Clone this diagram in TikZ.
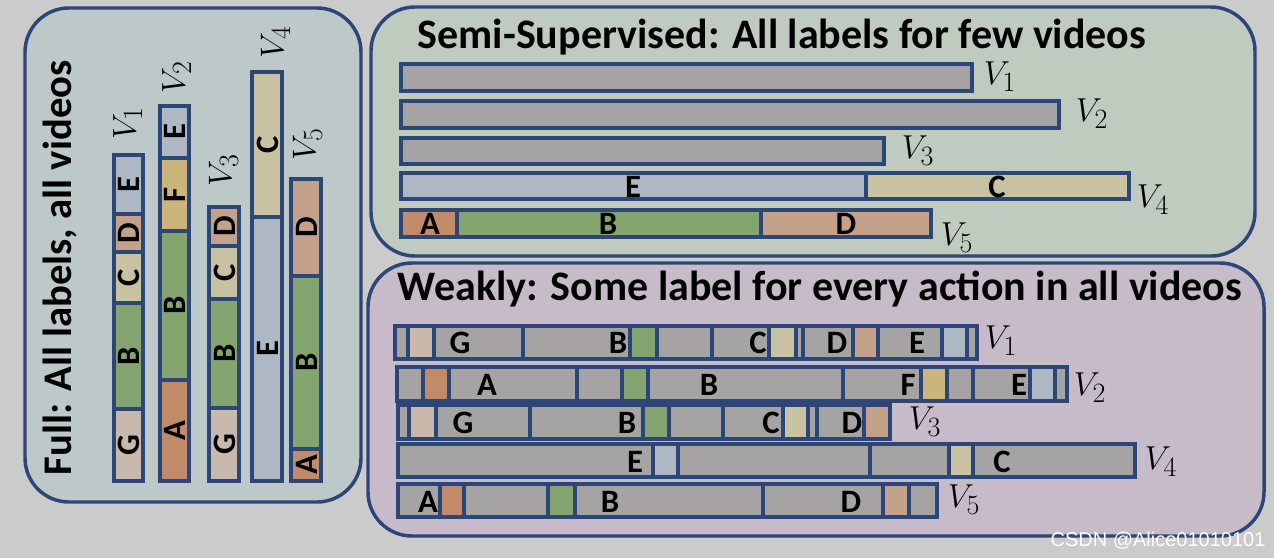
\documentclass[tikz,border=0pt]{standalone}
\usepackage{fontspec}
\newfontfamily\carl{Carlito}
\newfontfamily\wmfont{Liberation Sans}
\definecolor{bgc}{HTML}{CBCBCB}
\definecolor{fullc}{HTML}{BDC9C9}
\definecolor{semic}{HTML}{BFCBBF}
\definecolor{weakc}{HTML}{C7BBCA}
\definecolor{bord}{HTML}{2C4678}
\definecolor{gy}{HTML}{A5A3A4}
\definecolor{cE}{HTML}{ADB8C4}
\definecolor{cC}{HTML}{C9C2A2}
\definecolor{cD}{HTML}{C4A18A}
\definecolor{cA}{HTML}{C18B69}
\definecolor{cB}{HTML}{84A56F}
\definecolor{cG}{HTML}{C8B9AC}
\definecolor{cF}{HTML}{CAB67B}
\newcommand\myhrow[3]{\foreach \a/\b/\c in {#3} {\draw[seg,fill=\c] (\a,#1) rectangle (\b,#2);}}
\newcommand\myvbar[3]{\foreach \a/\b/\c in {#3} {\draw[seg,fill=\c] (#1,\a) rectangle (#2,\b);}}
\newcommand\vv[1]{$V_{\mbox{\fontsize{21}{21}\selectfont #1}}$}
\begin{document}
\begin{tikzpicture}[x=0.75pt,y=-0.75pt,
  panel/.style={draw=bord,line width=2.6pt,rounded corners=33pt},
  seg/.style={draw=bord,line width=2.9pt},
  lab/.style={inner sep=0pt,font=\carl\bfseries\fontsize{24.5}{24.5}\selectfont},
  vlab/.style={inner sep=0pt,font=\fontsize{30}{30}\selectfont},
  ttl/.style={inner sep=0pt,font=\carl\bfseries\fontsize{31.5}{31.5}\selectfont}]
\fill[bgc] (0,0) rectangle (1274,558);
\useasboundingbox (0,0) rectangle (1274,558);
% panels
\draw[panel,fill=fullc] (25,8) rectangle (361,502);
\draw[panel,fill=semic] (371,7) rectangle (1255,256);
\draw[panel,fill=weakc] (368,263) rectangle (1264,536);
% ---------- Full ----------
\node[ttl,rotate=90,font=\carl\bfseries\fontsize{30.5}{30.5}\selectfont] (tfull) at (60,268) {Full: All labels, all videos};
\myvbar{114}{143}{409/481/cG,303/409/cB,252/303/cC,214/252/cD,155/214/cE}
\myvbar{160}{189}{380/481/cA,231/380/cB,158/231/cF,106/158/cE}
\myvbar{209}{239}{408/481/cG,299/408/cB,246/299/cC,207/246/cD}
\myvbar{252}{282}{217/481/cE,72/217/cC}
\myvbar{291}{321}{449/481/cA,276/449/cB,179/276/cD}
\begin{scope}[every node/.append style={rotate=90}]
\node[lab] (f1g) at (129,445) {G};
\node[lab] (f1b) at (129,356) {B};
\node[lab] (f1c) at (129,277.5) {C};
\node[lab] (f1d) at (129,233) {D};
\node[lab] (f1e) at (129,184.5) {E};
\node[lab] (f2a) at (175,430.5) {A};
\node[lab] (f2b) at (175,305.5) {B};
\node[lab] (f2f) at (175,194.5) {F};
\node[lab] (f2e) at (175,132) {E};
\node[lab] (f3g) at (224.5,444.5) {G};
\node[lab] (f3b) at (224.5,353.5) {B};
\node[lab] (f3c) at (224.5,272.5) {C};
\node[lab] (f3d) at (224.5,226.5) {D};
\node[lab] (f4e) at (267.5,349) {E};
\node[lab] (f4c) at (267.5,144.5) {C};
\node[lab] (f5a) at (306.5,465) {A};
\node[lab] (f5b) at (306.5,362.5) {B};
\node[lab] (f5d) at (306.5,227.5) {D};
\node[vlab] (fv1) at (128,123) {\vv{1}};
\node[vlab] (fv2) at (177,77) {\vv{2}};
\node[vlab] (fv3) at (224,170) {\vv{3}};
\node[vlab] (fv4) at (276,42) {\vv{4}};
\node[vlab] (fv5) at (308,144) {\vv{5}};
\end{scope}
% ---------- Semi ----------
\node[ttl] (tsemi) at (782,37) {Semi-Supervised: All labels for few videos};
\myhrow{64}{91}{401/972/gy}
\myhrow{101}{128}{401/1059/gy}
\myhrow{138}{164}{401/884/gy}
\myhrow{173}{199}{401/866/cE,866/1129/cC}
\myhrow{210}{237}{401/457/cA,457/761/cB,761/931/cD}
\node[lab] (se) at (633,187) {E};
\node[lab] (sc) at (997,187) {C};
\node[lab] (sa) at (430,224) {A};
\node[lab] (sb) at (608,224) {B};
\node[lab] (sd) at (846,224) {D};
\node[vlab] (sv1) at (1000,77) {\vv{1}};
\node[vlab] (sv2) at (1092,114) {\vv{2}};
\node[vlab] (sv3) at (918,151) {\vv{3}};
\node[vlab] (sv4) at (1153,200) {\vv{4}};
\node[vlab] (sv5) at (957,238) {\vv{5}};
% ---------- Weakly ----------
\node[ttl] (tweak) at (820,289) {Weakly: Some label for every action in all videos};
\myhrow{326}{359}{395/408/gy,408/434/cG,434/523/gy,523/630/gy,630/657/cB,657/712/gy,712/769/gy,769/796/cC,796/803/gy,803/853/gy,853/878/cD,878/942/gy,942/967/cE,967/977/gy}
\myhrow{367}{401}{397/423/gy,423/449/cA,449/577/gy,577/622/gy,622/648/cB,648/843/gy,843/921/gy,921/947/cF,947/973/gy,973/1030/gy,1030/1055/cE,1055/1067/gy}
\myhrow{405}{439}{398/409/gy,409/436/cG,436/530/gy,530/643/gy,643/669/cB,669/723/gy,723/783/gy,783/808/cC,808/817/gy,817/864/gy,864/890/cD}
\myhrow{444}{477}{398/653/gy,653/678/cE,678/870/gy,870/949/gy,949/973/cC,973/1135/gy}
\myhrow{484}{517}{398/440/gy,440/464/cA,464/548/gy,548/575/cB,575/763/gy,763/883/gy,883/909/cD,909/937/gy}
\node[lab] (w1g) at (460,343) {G};
\node[lab] (w1b) at (618,343) {B};
\node[lab] (w1c) at (758,343) {C};
\node[lab] (w1d) at (837,343) {D};
\node[lab] (w1e) at (917,343) {E};
\node[lab] (w2a) at (487,385) {A};
\node[lab] (w2b) at (709,385) {B};
\node[lab] (w2f) at (908,385) {F};
\node[lab] (w2e) at (1019,385) {E};
\node[lab] (w3g) at (463,423) {G};
\node[lab] (w3b) at (627,423) {B};
\node[lab] (w3c) at (771,423) {C};
\node[lab] (w3d) at (852,423) {D};
\node[lab] (w4e) at (635,462) {E};
\node[lab] (w4c) at (1002,462) {C};
\node[lab] (w5a) at (428,502) {A};
\node[lab] (w5b) at (610,502) {B};
\node[lab] (w5d) at (851,502) {D};
\node[vlab] (wv1) at (1001,341) {\vv{1}};
\node[vlab] (wv2) at (1090,388) {\vv{2}};
\node[vlab] (wv3) at (925,422) {\vv{3}};
\node[vlab] (wv4) at (1161,462) {\vv{4}};
\node[vlab] (wv5) at (964,500) {\vv{5}};
% watermark
\node[inner sep=0pt,text=white,font=\wmfont\fontsize{15}{15}\selectfont] (wm) at (1158,541) {CSDN @Alice01010101};
\end{tikzpicture}
\end{document}
